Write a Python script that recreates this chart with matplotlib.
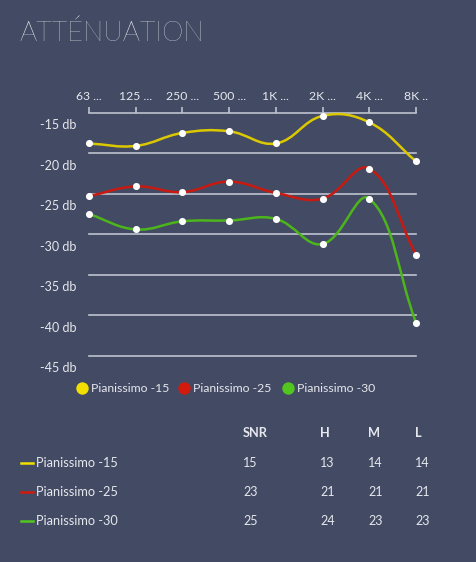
import numpy as np
import matplotlib.pyplot as plt
from matplotlib.path import Path
from matplotlib.patches import PathPatch

# dati
freqs = ['63 ...', '125 ...', '250 ...', '500 ...', '1K ...', '2K ...', '4K ...', '8K ..']
serie = ['Pianissimo -15', 'Pianissimo -25', 'Pianissimo -30']
pian15 = [-17.4, -17.7, -16.1, -15.9, -17.4, -14.0, -14.8, -19.6]
pian25 = [-23.9, -22.7, -23.4, -22.1, -23.5, -24.2, -20.5, -31.1]
pian30 = [-26.1, -28.0, -27.0, -26.9, -26.7, -29.8, -24.2, -39.5]
yticks = [-15, -20, -25, -30, -35, -40, -45]
griglia = [-18.6, -23.6, -28.6, -33.6, -38.6, -43.6]

colonne = ['SNR', 'H', 'M', 'L']
snr = [15, 23, 25]
h_vals = [13, 21, 24]
m_vals = [14, 21, 23]
l_vals = [14, 21, 23]

colori = ['#DCC800', '#C81A10', '#4DB51C']
colori_legenda = ['#F2DE00', '#D41A0C', '#52C61E']
sfondo = '#434A63'
testo = '#E6E8EE'
linee = '#BFC3CE'
font = 'Lato'

W, H = 476, 562
fig = plt.figure(figsize=(W / 100, H / 100), dpi=100, facecolor=sfondo)

# area del grafico in pixel: x 89..416, y 124..367
ax = fig.add_axes([89 / W, 1 - 367.3 / H, 327 / W, 243.3 / H])
ax.set_facecolor('none')
ax.set_xlim(0, 7)
ax.set_ylim(-45, -15)

sx, sy = 327 / 7, 243.3 / 30  # pixel per unità


def curva(xs, ys, tens=0.4):
    # spline tipo chart.js (bezier cubiche)
    px = np.array(xs, float) * sx
    py = np.array(ys, float) * sy
    n = len(px)
    cp_prev, cp_next = [], []
    for i in range(n):
        p0 = (px[max(i - 1, 0)], py[max(i - 1, 0)])
        p1 = (px[i], py[i])
        p2 = (px[min(i + 1, n - 1)], py[min(i + 1, n - 1)])
        d01 = np.hypot(p1[0] - p0[0], p1[1] - p0[1])
        d12 = np.hypot(p2[0] - p1[0], p2[1] - p1[1])
        s = d01 + d12 if d01 + d12 > 0 else 1
        fa, fb = tens * d01 / s, tens * d12 / s
        cp_prev.append((p1[0] - fa * (p2[0] - p0[0]), p1[1] - fa * (p2[1] - p0[1])))
        cp_next.append((p1[0] + fb * (p2[0] - p0[0]), p1[1] + fb * (p2[1] - p0[1])))
    verts = [(px[0], py[0])]
    codes = [Path.MOVETO]
    for i in range(n - 1):
        verts += [cp_next[i], cp_prev[i + 1], (px[i + 1], py[i + 1])]
        codes += [Path.CURVE4] * 3
    verts = [(a / sx, b / sy) for a, b in verts]
    return Path(verts, codes)


# linee orizzontali
for g in griglia:
    ax.plot([0, 7], [g, g], color=linee, lw=1.2, clip_on=False, zorder=1)

xs = np.arange(len(freqs))
for vals, c in zip([pian15, pian25, pian30], colori):
    ax.add_patch(PathPatch(curva(xs, vals), facecolor='none', edgecolor=c,
                           lw=1.8, clip_on=False, zorder=3))
    ax.scatter(xs, vals, s=26, color='white', zorder=4, clip_on=False, linewidths=0)

# asse superiore
for k in ['left', 'right', 'bottom']:
    ax.spines[k].set_visible(False)
ax.spines['top'].set_position(('data', -13.6))
ax.spines['top'].set_color(linee)
ax.spines['top'].set_linewidth(1.2)
ax.xaxis.tick_top()
ax.set_xticks(xs)
ax.set_xticklabels(freqs, fontsize=8.8, color=testo, family=font)
ax.tick_params(axis='x', direction='out', length=4, width=1.2, color=linee, pad=4)

ax.set_yticks(yticks)
ax.set_yticklabels([f'{v} db' for v in yticks], fontsize=9, color=testo, family=font)
ax.tick_params(axis='y', length=0, pad=9)

# sovrapposizione in pixel per titolo, legenda e tabella
ov = fig.add_axes([0, 0, 1, 1])
ov.set_xlim(0, W)
ov.set_ylim(H, 0)
ov.axis('off')
ov.patch.set_alpha(0)

ov.text(19, 33, 'ATTÉNUATION', fontsize=19.5, color='white', family=font,
        fontweight='light', va='center', ha='left')

# legenda
leg_x = [82, 184, 288]
for x, c, nome in zip(leg_x, colori_legenda, serie):
    ov.scatter([x], [388], s=80, color=c, linewidths=0)
    ov.text(x + 9, 388, nome, fontsize=8.8, color=testo, family=font, va='center')

# tabella
col_x = [243, 320, 368, 415]
for x, nome in zip(col_x, colonne):
    ov.text(x, 433, nome, fontsize=9.2, color=testo, family=font,
            fontweight='bold', va='center')
righe_y = [463, 492, 521]
for i, (y, nome) in enumerate(zip(righe_y, serie)):
    ov.plot([21, 33], [y, y], color=colori_legenda[i], lw=1.8)
    ov.text(36, y, nome, fontsize=9.2, color=testo, family=font, va='center')
    for x, v in zip(col_x, [snr[i], h_vals[i], m_vals[i], l_vals[i]]):
        ov.text(x, y, str(v), fontsize=9, color=testo, family=font, va='center')

fig.savefig('out.png', dpi=100, facecolor=sfondo)
